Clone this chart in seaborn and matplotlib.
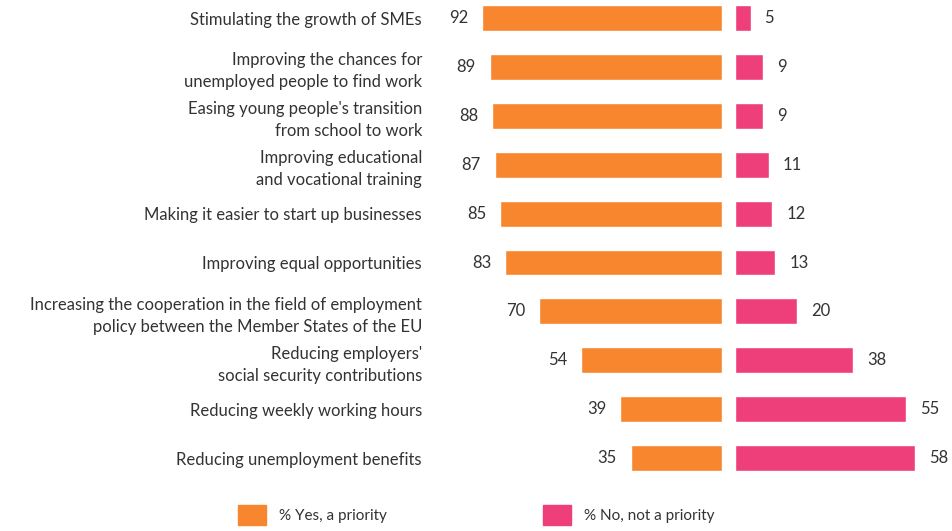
import pandas as pd
import matplotlib.pyplot as plt
import seaborn as sns
from matplotlib.patches import Patch

temas = [
    "Stimulating the growth of SMEs",
    "Improving the chances for\nunemployed people to find work",
    "Easing young people's transition\nfrom school to work",
    "Improving educational\nand vocational training",
    "Making it easier to start up businesses",
    "Improving equal opportunities",
    "Increasing the cooperation in the field of employment\npolicy between the Member States of the EU",
    "Reducing employers'\nsocial security contributions",
    "Reducing weekly working hours",
    "Reducing unemployment benefits",
]
sim = [92, 89, 88, 87, 85, 83, 70, 54, 39, 35]
nao = [5, 9, 9, 11, 12, 13, 20, 38, 55, 58]

legenda_sim = "% Yes, a priority"
legenda_nao = "% No, not a priority"

cor_sim = "#F7862E"
cor_nao = "#EF3F7A"
cor_texto = "#333333"

sns.set_style("white")
plt.rcParams['font.family'] = ['Lato', 'DejaVu Sans']

dados = pd.DataFrame({"tema": temas, "sim": sim, "nao": nao})

W, H = 953, 531
fig = plt.figure(figsize=(W / 100, H / 100), dpi=100)
ax1 = fig.add_axes([440 / W, 49 / H, 282 / W, 482 / H])
ax2 = fig.add_axes([735 / W, 49 / H, 218 / W, 482 / H])

sns.barplot(data=dados, x="sim", y="tema", color=cor_sim, saturation=1, width=0.53, ax=ax1)
sns.barplot(data=dados, x="nao", y="tema", color=cor_nao, saturation=1, width=0.53, ax=ax2)

ax1.set_xlim(108, 0)
ax2.set_xlim(0, 70.2)

for ax in (ax1, ax2):
    ax.set_ylim(9.49, -0.37)
    ax.set_xlabel("")
    ax.set_ylabel("")
    ax.set_xticks([])
    sns.despine(ax=ax, left=True, bottom=True)
    ax.bar_label(ax.containers[0], padding=10, fontsize=12, color=cor_texto)

ax1.tick_params(axis="y", length=0, pad=13, labelsize=12, labelcolor=cor_texto)
for t in ax1.get_yticklabels():
    t.set_linespacing(1.45)
ax2.set_yticks([])

fig.legend(handles=[Patch(color=cor_sim, label=legenda_sim), Patch(color=cor_nao, label=legenda_nao)],
           loc="center", bbox_to_anchor=(0.5, 0.03), ncol=2, frameon=False,
           handlelength=1.8, handleheight=1.6, handletextpad=0.9, columnspacing=10.2,
           fontsize=11, labelcolor=cor_texto)

plt.savefig("out.png")
